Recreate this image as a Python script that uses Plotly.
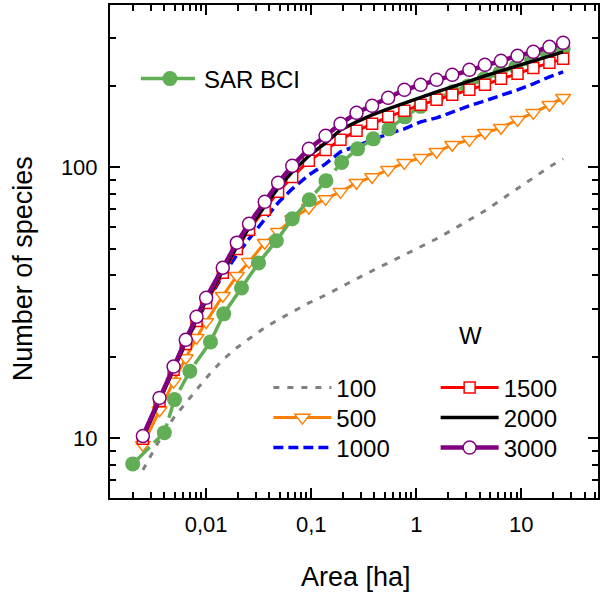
import plotly.graph_objects as go

# ---------------- data ----------------
area_model = [0.0025, 0.0036, 0.0049, 0.0064, 0.0081, 0.01, 0.0144, 0.0196, 0.0256,
              0.0361, 0.0484, 0.066, 0.095, 0.137, 0.19, 0.27, 0.38, 0.54, 0.77,
              1.1, 1.56, 2.2, 3.2, 4.5, 6.4, 9.2, 13, 18.5, 25]

s_w100 = [7.65, 9.87, 11.9, 13.5, 15.1, 16.7, 19.5, 21.6, 23.3, 25.6, 27.4, 29.3, 31.6,
          33.8, 36.2, 38.8, 41.5, 44.4, 47.5, 50.9, 54.5, 58.8, 64.0, 69.1, 75.9, 83.3,
          91.5, 100.4, 107.5]
s_w500 = [9.46, 12.7, 16.2, 19.8, 23.5, 26.9, 33.6, 39.8, 44.8, 52.7, 57.8, 64.5, 70.9,
          76.5, 81.2, 87.7, 92.2, 97.9, 103.9, 108.4, 114.1, 121.1, 126.3, 134.1, 139.9,
          149.7, 158.9, 170.1, 180.5]
s_w1000 = [10.04, 13.87, 18.05, 22.5, 27.1, 31.6, 39.8, 47.5, 54.5, 64.0, 74.0, 83.3, 93.8,
           103.0, 114.1, 120.0, 126.3, 132.9, 138.7, 147.2, 152.3, 160.3, 168.6, 176.0,
           183.6, 193.2, 203.3, 215.8, 225.1]
s_w1500 = [9.96, 13.75, 17.9, 22.3, 27.1, 31.6, 40.8, 50.0, 58.8, 69.7, 81.2, 92.2, 105.7,
           116.0, 126.3, 136.4, 144.7, 153.6, 161.6, 170.1, 177.4, 185.1, 193.2, 201.6,
           212.1, 221.3, 232.8, 243.0, 251.4]
s_w2000 = [10.1, 13.87, 18.05, 22.7, 27.4, 32.2, 41.5, 50.9, 59.8, 72.1, 84.0, 96.2, 110.3,
           123.1, 137.5, 147.2, 156.2, 164.4, 173.0, 182.0, 190.0, 198.2, 208.5, 217.6,
           227.0, 236.8, 247.2, 257.9, 266.8]
s_w3000 = [10.2, 14.1, 18.4, 23.1, 28.1, 33.0, 42.6, 52.7, 61.9, 74.6, 87.7, 101.3, 117,
           130.7, 144.7, 158.9, 168.6, 180.5, 193.2, 201.6, 210.3, 219.4, 229, 238.9,
           247.2, 257.9, 266.8, 278.4, 288]

area_bci = [0.002, 0.004, 0.005, 0.007, 0.011, 0.0147, 0.0217, 0.0315, 0.0466, 0.066,
            0.096, 0.138, 0.195, 0.276, 0.39, 0.55, 0.78, 1.1, 1.56, 2.21, 3.125, 4.42,
            6.25, 8.84, 12.5, 17.7, 25]
s_bci = [8.05, 10.5, 13.9, 17.7, 22.7, 28.8, 35.9, 44.4, 53.6, 64.6, 75.9, 89.2, 104.3,
         117.0, 127.4, 138.7, 153.6, 167.9, 179.7, 190.0, 199.8, 212.1, 223.2, 234.9,
         247.2, 262.4, 273.7]

x_tickvals = [0.01, 0.1, 1, 10]
x_ticktext = ["0,01", "0,1", "1", "10"]
y_tickvals = [10, 100]
y_ticktext = ["10", "100"]
x_minor = [m * 10.0 ** e for e in range(-3, 2) for m in range(2, 10)]
y_minor = [7, 8, 9, 20, 30, 40, 50, 60, 70, 80, 90, 200, 300]

FONT = "Liberation Sans, Arial, sans-serif"

fig = go.Figure()

fig.add_trace(go.Scatter(x=area_model, y=s_w100, name="100", mode="lines",
                         line=dict(color="#808080", width=3, dash="6px,8px"),
                         legend="legend2"))
fig.add_trace(go.Scatter(x=area_model, y=s_w500, name="500", mode="lines+markers",
                         line=dict(color="#FF8000", width=3),
                         marker=dict(symbol="triangle-down", size=13, color="white",
                                     line=dict(color="#FF8000", width=1.5)),
                         legend="legend3"))
fig.add_trace(go.Scatter(x=area_model, y=s_w1000, name="1000", mode="lines",
                         line=dict(color="#0000FF", width=3.5, dash="10px,5px"),
                         legend="legend4"))
fig.add_trace(go.Scatter(x=area_bci, y=s_bci, name="SAR BCI", mode="lines+markers",
                         line=dict(color="#62AE56", width=3.5, dash="24px,6px"),
                         marker=dict(symbol="circle", size=15, color="#62AE56"),
                         legend="legend"))
fig.add_trace(go.Scatter(x=area_model, y=s_w1500, name="1500", mode="lines+markers",
                         line=dict(color="#FF0000", width=3),
                         marker=dict(symbol="square", size=11, color="white",
                                     line=dict(color="#FF0000", width=1.5)),
                         legend="legend5"))
fig.add_trace(go.Scatter(x=area_model, y=s_w2000, name="2000", mode="lines",
                         line=dict(color="#000000", width=3.5),
                         legend="legend6"))
fig.add_trace(go.Scatter(x=area_model, y=s_w3000, name="3000", mode="lines+markers",
                         line=dict(color="#800080", width=4.5),
                         marker=dict(symbol="circle", size=13, color="white",
                                     line=dict(color="#800080", width=1.5)),
                         legend="legend7"))

axis_common = dict(showline=True, linecolor="black", linewidth=2, mirror="ticks",
                   ticks="inside", ticklen=10, tickwidth=2, tickcolor="black",
                   showgrid=False, zeroline=False,
                   tickfont=dict(family=FONT, size=22, color="black"))

fig.update_xaxes(type="log", range=[-2.915, 1.7295], tickmode="array",
                 tickvals=x_tickvals, ticktext=x_ticktext, ticklabelstandoff=6,
                 minor=dict(tickmode="array", tickvals=x_minor, ticks="inside",
                            ticklen=6, tickwidth=1.5, tickcolor="black"),
                 **axis_common)
fig.update_yaxes(type="log", range=[0.780, 2.599], tickmode="array",
                 tickvals=y_tickvals, ticktext=y_ticktext, ticklabelstandoff=6,
                 minor=dict(tickmode="array", tickvals=y_minor, ticks="inside",
                            ticklen=6, tickwidth=1.5, tickcolor="black"),
                 **axis_common)

leg_common = dict(bgcolor="rgba(0,0,0,0)", borderwidth=0, itemwidth=58,
                  font=dict(family=FONT, size=24, color="black"),
                  xanchor="left", yanchor="middle", orientation="v")

col1_x, col2_x = 0.3245, 0.6673
row_y = [0.2231, 0.1623, 0.1014]

fig.update_layout(
    width=600, height=593,
    margin=dict(l=110, r=0, t=5, b=95),
    paper_bgcolor="white", plot_bgcolor="white",
    showlegend=True,
    legend=dict(x=0.0531, y=0.8499, **leg_common),
    legend2=dict(x=col1_x, y=row_y[0], **leg_common),
    legend3=dict(x=col1_x, y=row_y[1], **leg_common),
    legend4=dict(x=col1_x, y=row_y[2], **leg_common),
    legend5=dict(x=col2_x, y=row_y[0], **leg_common),
    legend6=dict(x=col2_x, y=row_y[1], **leg_common),
    legend7=dict(x=col2_x, y=row_y[2], **leg_common),
    annotations=[
        dict(text="Area [ha]", xref="paper", yref="paper", x=0.504, y=-0.160,
             xanchor="center", yanchor="middle", showarrow=False,
             font=dict(family=FONT, size=27, color="black")),
        dict(text="Number of species", xref="paper", yref="paper", x=-0.1776, y=0.4645,
             xanchor="center", yanchor="middle", textangle=-90, showarrow=False,
             font=dict(family=FONT, size=27, color="black")),
        dict(text="W", xref="paper", yref="paper", x=0.739, y=0.3306,
             xanchor="center", yanchor="middle", showarrow=False,
             font=dict(family=FONT, size=24, color="black")),
    ],
)

fig.write_html("out.html", config={"displayModeBar": False},
               post_script="document.body.style.margin='0';")
